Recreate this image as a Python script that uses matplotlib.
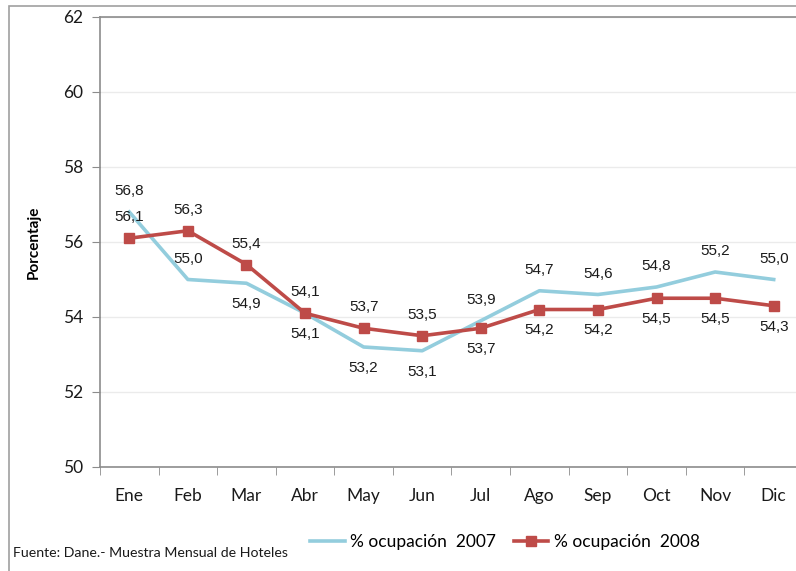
import matplotlib.pyplot as plt
from matplotlib.patches import Rectangle
from matplotlib.lines import Line2D
import numpy as np

meses = ['Ene', 'Feb', 'Mar', 'Abr', 'May', 'Jun', 'Jul', 'Ago', 'Sep', 'Oct', 'Nov', 'Dic']
ocup_2007 = [56.8, 55.0, 54.9, 54.1, 53.2, 53.1, 53.9, 54.7, 54.6, 54.8, 55.2, 55.0]
ocup_2008 = [56.1, 56.3, 55.4, 54.1, 53.7, 53.5, 53.7, 54.2, 54.2, 54.5, 54.5, 54.3]
# label above (1) or below (-1) the point
pos_2007 = [1, 1, -1, -1, -1, -1, 1, 1, 1, 1, 1, 1]
pos_2008 = [1, 1, 1, 1, 1, 1, -1, -1, -1, -1, -1, -1]

azul = '#93CDDD'
rojo = '#BE4B48'
gris = '#8C8C8C'

W, H = 796, 571
fig = plt.figure(figsize=(W / 100, H / 100), dpi=100)

# outer chart frame (cut off on the right/bottom like the reference)
fig.patches.append(Rectangle((9 / W, -0.1), 1.2, 1 - 6 / H + 0.1, transform=fig.transFigure,
                             fill=False, edgecolor='#A0A0A0', linewidth=1.2))

left, right, top, bottom = 100, 803, 17, 467
ax = fig.add_axes([left / W, 1 - bottom / H, (right - left) / W, (bottom - top) / H])

x = np.arange(1, 13)
ax.plot(x, ocup_2007, color=azul, linewidth=2.6, solid_joinstyle='round', zorder=3)
ax.plot(x, ocup_2008, color=rojo, linewidth=2.6, marker='s', markersize=6.5, zorder=4)

lab_font = dict(family='Liberation Sans', fontsize=11, color='#1a1a1a')
for xi, v, p in zip(x, ocup_2007, pos_2007):
    ax.annotate(f'{v:.1f}'.replace('.', ','), (xi, v), xytext=(0, 15 * p), textcoords='offset points',
                ha='center', va='center', **lab_font)
for xi, v, p in zip(x, ocup_2008, pos_2008):
    ax.annotate(f'{v:.1f}'.replace('.', ','), (xi, v), xytext=(0, 15 * p), textcoords='offset points',
                ha='center', va='center', **lab_font)

ax.set_xlim(0.5, 12.5)
ax.set_ylim(50, 62)
ax.set_yticks(np.arange(50, 63, 2))
ax.set_xticks(x)
ax.set_xticklabels(meses)
ax.set_xticks(np.arange(0.5, 13, 1), minor=True)
ax.tick_params(axis='x', which='major', length=0, pad=15, labelsize=12.5)
ax.tick_params(axis='x', which='minor', length=6, color=gris, direction='out')
ax.tick_params(axis='y', length=6, color=gris, direction='out', pad=6, labelsize=12.5)
for lab in ax.get_xticklabels() + ax.get_yticklabels():
    lab.set_family('Lato')
    lab.set_color('#1a1a1a')

ax.grid(axis='y', color='#EBEBEB', linewidth=1)
ax.set_axisbelow(True)
for s in ['left', 'bottom', 'top']:
    ax.spines[s].set_color(gris)
    ax.spines[s].set_linewidth(1.2)
ax.spines['right'].set_visible(False)

ax.set_ylabel('Porcentaje', family='Lato', fontweight='bold', fontsize=11, labelpad=16)

handles = [Line2D([], [], color=azul, linewidth=2.6),
           Line2D([], [], color=rojo, linewidth=2.6, marker='s', markersize=6.5)]
fig.legend(handles, ['% ocupación  2007', '% ocupación  2008'], loc='center',
           bbox_to_anchor=(505 / W, 1 - 542 / H), ncol=2, frameon=False,
           prop=dict(family='Lato', size=12.5), handlelength=2.0, columnspacing=1.0,
           handletextpad=0.3)

fig.text(13 / W, 1 - 553 / H, 'Fuente: Dane.- Muestra Mensual de Hoteles', family='Lato',
         fontsize=10.2, va='center', ha='left', color='#1a1a1a')

fig.savefig('out.png', dpi=100)
